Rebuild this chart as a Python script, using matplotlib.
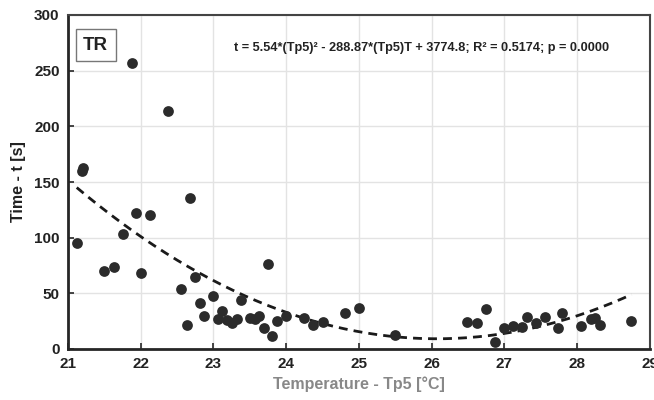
import numpy as np
import matplotlib.pyplot as plt

plt.rcParams['font.family'] = ['Liberation Sans', 'DejaVu Sans']

tp5 = [21.13, 21.19, 21.21, 21.50, 21.63, 21.75, 21.88, 21.94, 22.00, 22.13,
       22.38, 22.56, 22.63, 22.68, 22.74, 22.82, 22.87, 23.00, 23.06, 23.12,
       23.18, 23.25, 23.32, 23.38, 23.50, 23.57, 23.63, 23.69, 23.75, 23.81,
       23.88, 24.00, 24.25, 24.37, 24.50, 24.81, 25.00, 25.50, 26.49, 26.62,
       26.75, 26.87, 27.00, 27.12, 27.24, 27.31, 27.43, 27.56, 27.74, 27.80,
       28.06, 28.19, 28.25, 28.31, 28.74]
t = [95, 160, 163, 70, 74, 103, 257, 122, 68, 120,
     214, 54, 22, 136, 65, 41, 30, 48, 27, 34,
     26, 23, 27, 44, 28, 27, 30, 19, 76, 12,
     25, 30, 28, 22, 24, 32, 37, 13, 24, 23,
     36, 6, 19, 21, 20, 29, 23, 29, 19, 32,
     21, 27, 28, 22, 25]

# quadratic fit from the annotation
a, b, c = 5.54, -288.87, 3774.8
x_fit = np.linspace(21.12, 28.75, 200)
y_fit = a*x_fit**2 + b*x_fit + c

fig = plt.figure(figsize=(6.54, 4), dpi=100)
ax = fig.add_axes([0.104, 0.1275, 0.8895, 0.835])

ax.scatter(tp5, t, s=60, color='#2b2b2b', zorder=3, linewidths=0)
ax.plot(x_fit, y_fit, color='#1a1a1a', lw=2, ls=(0, (3.2, 2.2)), zorder=2)

ax.set_xlim(21, 29)
ax.set_ylim(0, 300)
ax.set_xticks(range(21, 30))
ax.set_yticks(range(0, 301, 50))
ax.grid(True, color='#e3e3e3', lw=1)
ax.set_axisbelow(True)

for side in ['left', 'bottom']:
    ax.spines[side].set_linewidth(2)
    ax.spines[side].set_color('#262626')
for side in ['top', 'right']:
    ax.spines[side].set_linewidth(1.5)
    ax.spines[side].set_color('#444444')

ax.tick_params(direction='in', length=4, width=1.2, color='#262626',
               labelsize=11, pad=6)
for lab in ax.get_xticklabels() + ax.get_yticklabels():
    lab.set_fontweight('bold')
    lab.set_color('#222222')

ax.set_xlabel('Temperature - Tp5 [°C]', fontsize=11.5, fontweight='bold',
              color='#888888', labelpad=4)
ax.set_ylabel('Time - t [s]', fontsize=11.5, fontweight='bold',
              color='#222222', labelpad=6)

ax.text(25.86, 270, 't = 5.54*(Tp5)² - 288.87*(Tp5)T + 3774.8; R² = 0.5174; p = 0.0000',
        ha='center', va='center', fontsize=9.2, fontweight='bold', color='#222222')
ax.text(21.378, 272.8, 'TR', ha='center', va='center', fontsize=13.5,
        fontweight='bold', color='#222222',
        bbox=dict(boxstyle='square,pad=0.4', fc='white', ec='#777777', lw=1))

fig.savefig('out.png', dpi=100)
